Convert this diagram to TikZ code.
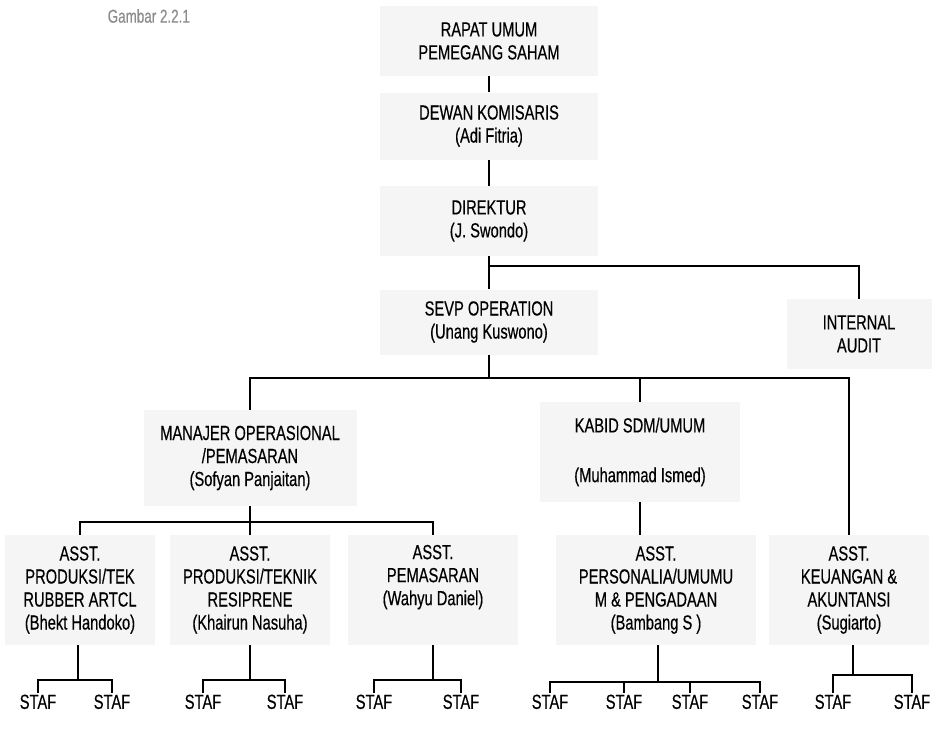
\documentclass[tikz,border=0pt]{standalone}
\usepackage{fontspec}
\setmainfont{Liberation Sans}[FakeStretch=0.72,FakeBold=0.4]
\begin{document}
\begin{tikzpicture}[x=0.75pt,y=-0.75pt,
  box/.style 2 args={fill=black!4, minimum width=#1*0.75pt, minimum height=#2*0.75pt,
    inner sep=0pt, align=center, font=\fontsize{15.3}{17.25}\selectfont},
  staf/.style={font=\fontsize{15.3}{17.25}\selectfont, inner sep=1pt, anchor=north},
  ln/.style={line width=1.5pt}]
\useasboundingbox[fill=white] (0,0) rectangle (938,735);

\node[font=\fontsize{14}{15}\selectfont, text=black!45, anchor=west] (gb) at (103,16) {Gambar 2.2.1};

\node[box={218}{70}] (rups) at (489,41) {RAPAT UMUM\\PEMEGANG SAHAM};
\node[box={218}{67}] (dk) at (489,126) {DEWAN KOMISARIS\\(Adi Fitria)};
\node[box={218}{70}] (dir) at (489,221) {DIREKTUR\\(J. Swondo)};
\node[box={218}{65}] (sevp) at (489,322) {SEVP OPERATION\\(Unang Kuswono)};
\node[box={145}{70}] (ia) at (859,334) {INTERNAL\\AUDIT};
\node[box={213}{96}] (mgr) at (250,458) {MANAJER OPERASIONAL\\/PEMASARAN\\(Sofyan Panjaitan)};
\node[box={200}{100}] (kabid) at (640,452) {KABID SDM/UMUM\\[20pt](Muhammad Ismed)};

\node[box={150}{110}] (a1) at (80,590) {ASST.\\PRODUKSI/TEK\\RUBBER ARTCL\\(Bhekt Handoko)};
\node[box={160}{110}] (a2) at (250,590) {ASST.\\PRODUKSI/TEKNIK\\RESIPRENE\\(Khairun Nasuha)};
\node[box={170}{110}] (a3) at (433,590) {ASST.\\PEMASARAN\\(Wahyu Daniel)\\\strut};
\node[box={200}{110}] (a4) at (656,590) {ASST.\\PERSONALIA/UMUMU\\M \& PENGADAAN\\(Bambang S )};
\node[box={160}{110}] (a5) at (849,590) {ASST.\\KEUANGAN \&\\AKUNTANSI\\(Sugiarto)};

\node[staf] (s11) at (38,693) {STAF};
\node[staf] (s12) at (112,693) {STAF};
\node[staf] (s21) at (203,693) {STAF};
\node[staf] (s22) at (285,693) {STAF};
\node[staf] (s31) at (374,693) {STAF};
\node[staf] (s32) at (461,693) {STAF};
\node[staf] (s41) at (550,693) {STAF};
\node[staf] (s42) at (624,693) {STAF};
\node[staf] (s43) at (690,693) {STAF};
\node[staf] (s44) at (760,693) {STAF};
\node[staf] (s51) at (833,693) {STAF};
\node[staf] (s52) at (912,693) {STAF};

% top chain
\draw[ln] (rups.south) -- (dk.north);
\draw[ln] (dk.south) -- (dir.north);
\draw[ln] (dir.south) -- (sevp.north);
\coordinate (db) at (489,266);
\draw[ln] (db) -| (ia.north);

% main bus
\coordinate (tb) at (489,378);
\draw[ln] (sevp.south) -- (tb);
\draw[ln] (mgr.north) |- (tb) -| (a5.north);
\draw[ln] (tb -| kabid.north) -- (kabid.north);
\draw[ln] (kabid.south) -- (kabid.south |- a4.north);

% manager bus
\coordinate (mb) at (250,522);
\draw[ln] (mgr.south) -- (mb);
\draw[ln] (a1.north) |- (mb) -| (a3.north);
\draw[ln] (mb) -- (a2.north);

% staf buses
\coordinate (b1) at (78,680);
\draw[ln] (a1.south -| b1) -- (b1);
\draw[ln] (s11.north) |- (b1) -| (s12.north);
\coordinate (b2) at (250,680);
\draw[ln] (a2.south) -- (b2);
\draw[ln] (s21.north) |- (b2) -| (s22.north);
\coordinate (b3) at (433,680);
\draw[ln] (a3.south) -- (b3);
\draw[ln] (s31.north) |- (b3) -| (s32.north);
\coordinate (b4) at (658,682);
\draw[ln] (a4.south -| b4) -- (b4);
\draw[ln] (s41.north) |- (b4) -| (s44.north);
\draw[ln] (s42.north) -- (s42.north |- b4);
\draw[ln] (s43.north) -- (s43.north |- b4);
\coordinate (b5) at (853,675);
\draw[ln] (a5.south -| b5) -- (b5);
\draw[ln] (s51.north) |- (b5) -| (s52.north);
\end{tikzpicture}
\end{document}
